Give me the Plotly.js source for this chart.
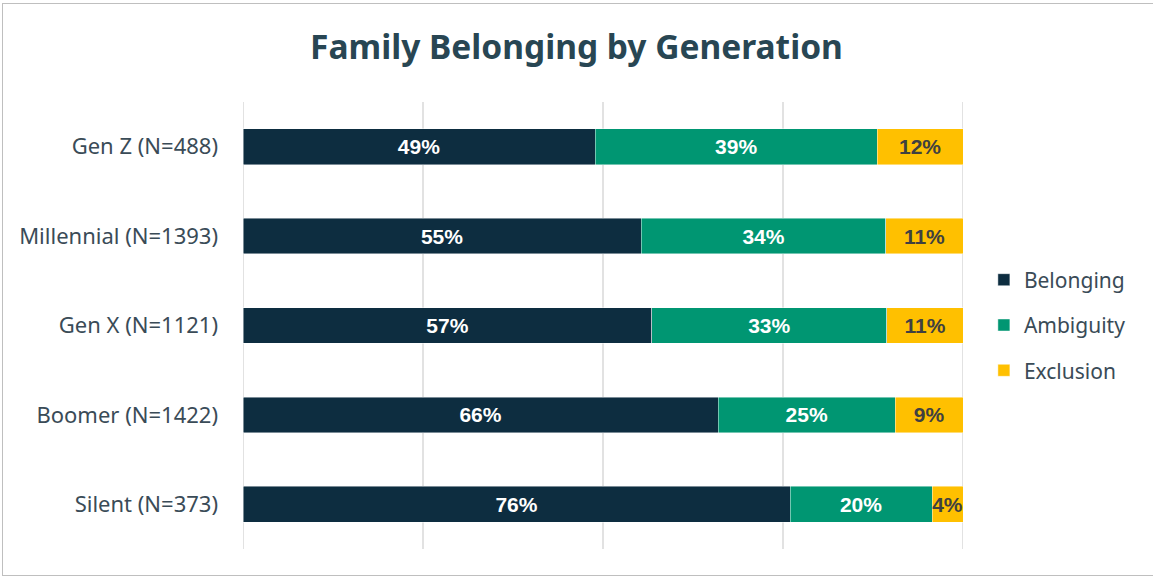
<!DOCTYPE html>
<html>
<head>
<meta charset="utf-8">
<script src="https://cdn.plot.ly/plotly-3.0.1.min.js"></script>
<style>
html,body{margin:0;padding:0;background:#fff;overflow:hidden;}
#chart{width:1153px;height:579px;}
#frame{position:absolute;left:2px;top:3px;width:1160px;height:573px;border:1px solid #bfbfbf;pointer-events:none;box-sizing:border-box;}
</style>
</head>
<body>
<div id="chart"></div>
<div id="frame"></div>
<script>
const categories = ["Gen Z (N=488)", "Millennial (N=1393)", "Gen X (N=1121)", "Boomer (N=1422)", "Silent (N=373)"];
const belonging = [48.9, 55.3, 56.8, 66.0, 76.0];
const ambiguity = [39.2, 34.0, 32.6, 24.6, 19.7];
const exclusion = [11.9, 10.7, 10.7, 9.4, 4.3];
const seriesNames = ["Belonging", "Ambiguity", "Exclusion"];
const colors = ["#0d2d40", "#009672", "#ffc000"];
const textColors = ["#ffffff", "#ffffff", "#404040"];
const gridValues = [0, 25, 50, 75, 100];

const series = [belonging, ambiguity, exclusion];
const traces = series.map((vals, i) => ({
  type: "bar",
  orientation: "h",
  name: seriesNames[i],
  legendgroup: seriesNames[i],
  y: categories,
  x: vals,
  marker: {color: colors[i], line: {color: "rgba(255,255,255,0.6)", width: 0.75}},
  texttemplate: "%{x:.0f}%",
  textposition: "inside",
  insidetextanchor: "middle",
  textangle: 0,
  constraintext: "none",
  textfont: {family: "Liberation Sans, Arial, sans-serif", size: 21, color: textColors[i], weight: "bold"},
  hoverinfo: "skip"
}));

const gridShapes = gridValues.map(v => ({
  type: "line", layer: "below",
  xref: "x", yref: "paper",
  x0: v, x1: v, y0: 0, y1: 1,
  line: {color: "#d9d9d9", width: 1.5}
}));

const layout = {
  width: 1153,
  height: 579,
  barmode: "stack",
  bargap: 0.6,
  paper_bgcolor: "#ffffff",
  plot_bgcolor: "#ffffff",
  margin: {l: 243, r: 190, t: 102, b: 30, pad: 0},
  title: {
    text: "<b>Family Belonging by Generation</b>",
    x: 0.5, xref: "container", xanchor: "center",
    y: 0.919, yref: "container", yanchor: "middle",
    font: {family: "Noto Sans, sans-serif", size: 33.5, color: "#284653"}
  },
  xaxis: {
    range: [0, 100],
    showticklabels: false,
    showgrid: false,
    zeroline: false,
    showline: false,
    fixedrange: true
  },
  yaxis: {
    autorange: "reversed",
    showgrid: false,
    zeroline: false,
    showline: false,
    ticks: "",
    ticklabelstandoff: 24,
    tickfont: {family: "Noto Sans, sans-serif", size: 22, color: "#3a4b57"},
    fixedrange: true
  },
  shapes: gridShapes,
  legend: {
    x: 1.029, xanchor: "left",
    y: 0.501, yanchor: "middle",
    traceorder: "grouped",
    tracegroupgap: 15,
    font: {family: "Noto Sans, sans-serif", size: 21, color: "#3a4b57"},
    itemwidth: 30
  },
  showlegend: true
};

Plotly.newPlot("chart", traces, layout, {displayModeBar: false, staticPlot: true});
</script>
</body>
</html>
